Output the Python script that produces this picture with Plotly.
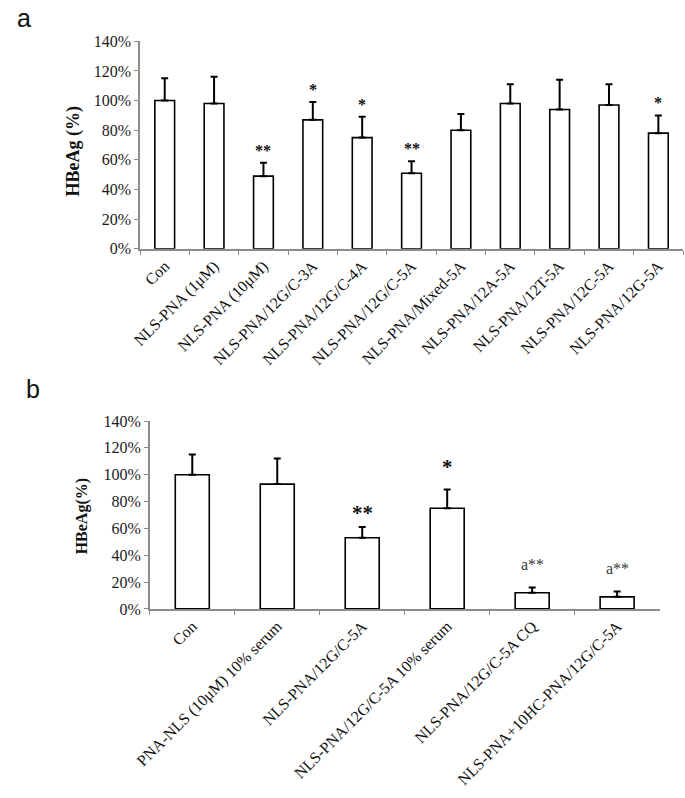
import plotly.graph_objects as go

# ---------------- data ----------------
cats_a = ["Con", "NLS-PNA (1μM)", "NLS-PNA (10μM)", "NLS-PNA/12G/C-3A", "NLS-PNA/12G/C-4A",
          "NLS-PNA/12G/C-5A", "NLS-PNA/Mixed-5A", "NLS-PNA/12A-5A", "NLS-PNA/12T-5A",
          "NLS-PNA/12C-5A", "NLS-PNA/12G-5A"]
vals_a = [100, 98, 49, 87, 75, 51, 80, 98, 94, 97, 78]
errs_a = [15, 18, 9, 12, 14, 8, 11, 13, 20, 14, 12]
sig_a = ["", "", "**", "*", "*", "**", "", "", "", "", "*"]

cats_b = ["Con", "PNA-NLS (10μM) 10% serum", "NLS-PNA/12G/C-5A", "NLS-PNA/12G/C-5A 10% serum",
          "NLS-PNA/12G/C-5A CQ", "NLS-PNA+10HC-PNA/12G/C-5A"]
vals_b = [100, 93, 53, 75, 12, 9]
errs_b = [15, 19, 8, 14, 4, 4]
sig_b = ["", "", "**", "*", "a**", "a**"]

y_ticks = [0, 20, 40, 60, 80, 100, 120, 140]
y_title_a = "HBeAg (%)"
y_title_b = "HBeAg(%)"

# ---------------- styling ----------------
SERIF = "Liberation Serif"
SANS = "Liberation Sans"
AXIS_GRAY = "#8c8c8c"
W, H = 685, 798

fig = go.Figure()

def add_bars(cats, vals, errs, xa, ya):
    fig.add_trace(go.Bar(
        x=cats, y=vals, xaxis=xa, yaxis=ya, width=0.4,
        marker=dict(color="white", line=dict(color="black", width=1.6)),
        error_y=dict(type="data", array=errs, arrayminus=[0] * len(errs), symmetric=False,
                     color="black", thickness=2, width=3.5),
        showlegend=False, hoverinfo="skip"))

add_bars(cats_a, vals_a, errs_a, "x", "y")
add_bars(cats_b, vals_b, errs_b, "x2", "y2")

def axis_x(domain, anchor):
    return dict(domain=domain, anchor=anchor, type="category", showline=True,
                linecolor=AXIS_GRAY, linewidth=1.5, ticks="outside", tickson="boundaries",
                ticklen=4, tickcolor=AXIS_GRAY, tickwidth=1.2, tickangle=-45,
                tickfont=dict(family=SERIF, size=16, color="#111"),
                showgrid=False, zeroline=False, fixedrange=True)

def axis_y(domain, anchor):
    return dict(domain=domain, anchor=anchor, range=[0, 140], tickvals=y_ticks,
                ticktext=[f"{v}%" for v in y_ticks], showline=True, linecolor=AXIS_GRAY,
                linewidth=1.5, ticks="outside", ticklen=4, tickcolor=AXIS_GRAY, tickwidth=1.2,
                tickfont=dict(family=SERIF, size=16, color="#1a1a1a"),
                showgrid=False, zeroline=False, fixedrange=True)

annotations = []

# significance labels
for c, v, e, s in zip(cats_a, vals_a, errs_a, sig_a):
    if s:
        annotations.append(dict(x=c, y=v + e, xref="x", yref="y", text=f"<b>{s}</b>",
                                showarrow=False, yanchor="bottom", yshift=2,
                                font=dict(family=SERIF, size=16, color="#111")))

style_b = {
    "**": dict(font=dict(family=SERIF, size=21, color="#111"), bold=True, yshift=0),
    "*": dict(font=dict(family=SERIF, size=21, color="#111"), bold=True, yshift=8),
    "a**": dict(font=dict(family=SERIF, size=16, color="#3a3a3a"), bold=False, yshift=12),
}
for c, v, e, s in zip(cats_b, vals_b, errs_b, sig_b):
    if s:
        st = style_b[s]
        txt = f"<b>{s}</b>" if st["bold"] else s
        annotations.append(dict(x=c, y=v + e, xref="x2", yref="y2", text=txt, showarrow=False,
                                yanchor="bottom", yshift=st["yshift"], font=st["font"]))

# axis titles
annotations.append(dict(x=59 / W, y=1 - 147 / H, xref="paper", yref="paper",
                        xanchor="center", yanchor="middle",
                        text=f"<b>{y_title_a}</b>", textangle=-90, showarrow=False,
                        font=dict(family=SERIF, size=18, color="#111")))
annotations.append(dict(x=68 / W, y=1 - 519 / H, xref="paper", yref="paper",
                        xanchor="center", yanchor="middle",
                        text=f"<b>{y_title_b}</b>", textangle=-90, showarrow=False,
                        font=dict(family=SERIF, size=16, color="#111")))

# panel letters
annotations.append(dict(x=8 / W, y=1 - 10 / H, xref="paper", yref="paper", text="a",
                        xanchor="center", yanchor="middle",
                        showarrow=False, font=dict(family=SANS, size=25, color="#111")))
annotations.append(dict(x=17 / W, y=1 - 389 / H, xref="paper", yref="paper", text="b",
                        xanchor="center", yanchor="middle",
                        showarrow=False, font=dict(family=SANS, size=25, color="#111")))

fig.update_layout(
    width=W, height=H, margin=dict(l=0, r=0, t=0, b=0),
    paper_bgcolor="white", plot_bgcolor="white",
    xaxis=axis_x([127 / W, 683 / W], "y"),
    yaxis=axis_y([1 - 246 / H, 1 - 34 / H], "x"),
    xaxis2=axis_x([137 / W, 659 / W], "y2"),
    yaxis2=axis_y([1 - 614 / H, 1 - 422 / H], "x2"),
    annotations=annotations,
    bargap=0.6,
)

fig.write_html("out.html", config={"displayModeBar": False},
               post_script="document.body.style.margin='0';document.body.style.overflow='hidden';")
